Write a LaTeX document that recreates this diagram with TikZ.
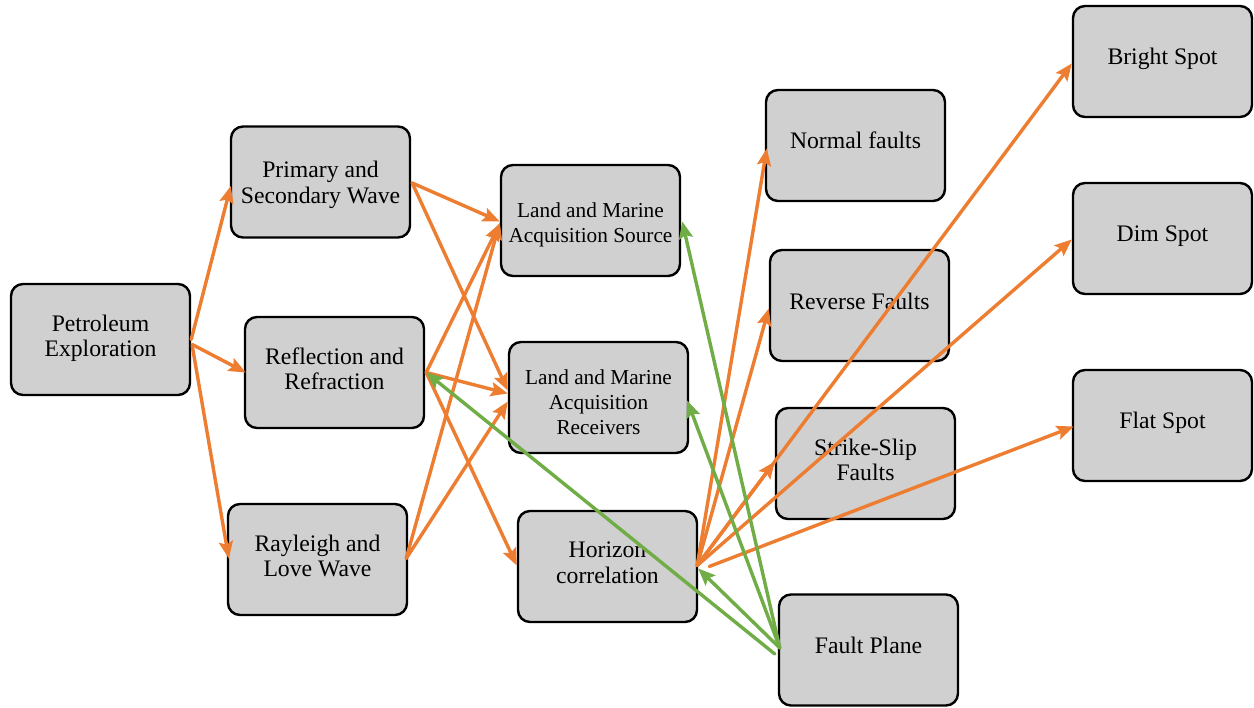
\documentclass[tikz,border=0pt]{standalone}
\usepackage{fontspec}
\setmainfont{Liberation Serif}
\usetikzlibrary{arrows.meta,calc}
\definecolor{boxfill}{RGB}{208,208,208}
\definecolor{flow}{RGB}{237,125,49}
\definecolor{link}{RGB}{112,173,71}
\begin{document}
\begin{tikzpicture}[x=1pt,y=-1pt,
  box/.style={draw=black, line width=2.4pt, rounded corners=12pt, fill=boxfill,
    minimum width=179pt, minimum height=111pt, inner sep=0pt},
  boxtext/.style={align=center, inner sep=0pt,
    font=\fontsize{23.7}{25.5}\selectfont,
    execute at begin node=\strut, execute at end node=\strut},
  smalltext/.style={font=\fontsize{21.3}{25}\selectfont},
  orangearrow/.style={draw=flow, line width=3.4pt, line cap=round,
    -{Stealth[length=17pt,width=14pt,inset=3pt]}},
  greenarrow/.style={draw=link, line width=3.4pt, line cap=round,
    -{Stealth[length=17pt,width=14pt,inset=3pt]}}]
\useasboundingbox (0,0) rectangle (1254,708);

% boxes
\node[box] (pe)  at (100.5,339.5) {};
\node[box] (psw) at (320.5,182)   {};
\node[box] (rr)  at (334.5,372.5) {};
\node[box] (rl)  at (317.5,559.5) {};
\node[box] (src) at (590.5,220.5) {};
\node[box] (rcv) at (598.5,397.5) {};
\node[box] (hor) at (607.5,566.5) {};
\node[box] (nf)  at (855.5,145.5) {};
\node[box] (rf)  at (859.5,305.5) {};
\node[box] (ss)  at (865.5,463.5) {};
\node[box] (fp)  at (868.5,650)   {};
\node[box] (bs)  at (1162.5,61.5) {};
\node[box] (ds)  at (1162.5,238.5) {};
\node[box] (fs)  at (1162.5,425.5) {};

% box labels
\node[boxtext] (pe-t)  at ($(pe)+(0,0)$)  {Petroleum\\Exploration};
\node[boxtext] (psw-t) at ($(psw)+(0,4)$) {Primary and\\Secondary Wave};
\node[boxtext] (rr-t)  at ($(rr)+(0,0)$)  {Reflection and\\Refraction};
\node[boxtext] (rl-t)  at ($(rl)+(0,0)$)  {Rayleigh and\\Love Wave};
\node[boxtext,smalltext] (src-t) at ($(src)+(0,6)$) {Land and Marine\\Acquisition Source};
\node[boxtext,smalltext] (rcv-t) at ($(rcv)+(0,8)$) {Land and Marine\\Acquisition\\Receivers};
\node[boxtext] (hor-t) at ($(hor)+(0,0)$) {Horizon\\correlation};
\node[boxtext] (nf-t)  at ($(nf)+(0,-2)$) {Normal faults};
\node[boxtext] (rf-t)  at ($(rf)+(0,-1)$) {Reverse Faults};
\node[boxtext] (ss-t)  at ($(ss)+(0,0)$)  {Strike-Slip\\Faults};
\node[boxtext] (fp-t)  at ($(fp)+(0,-2)$) {Fault Plane};
\node[boxtext] (bs-t)  at ($(bs)+(0,-2)$) {Bright Spot};
\node[boxtext] (ds-t)  at ($(ds)+(0,-2)$) {Dim Spot};
\node[boxtext] (fs-t)  at ($(fs)+(0,-2)$) {Flat Spot};

% orange flow: exploration to wave types
\draw[orangearrow] (pe.east) -- ($(psw.west)+(1,4)$);
\draw[orangearrow] ($(pe.east)+(1,5)$) -- ($(rr.west)+(2,0)$);
\draw[orangearrow] ($(pe.east)+(1,6)$) -- ($(rl.west)+(2,-1)$);

% wave types to acquisition and interpretation
\draw[orangearrow] ($(psw.east)+(1,1)$) -- ($(src.west)+(0,1)$);
\draw[orangearrow] ($(psw.east)+(1,1)$) -- ($(rcv.west)+(0,-7)$);
\draw[orangearrow] ($(rr.east)+(1,0)$) -- ($(src.west)+(0,3)$);
\draw[orangearrow] ($(rr.east)+(1,0)$) -- ($(rcv.west)+(0,-4)$);
\draw[orangearrow] ($(rr.east)+(1,0)$) -- ($(hor.west)+(0,-1)$);
\draw[orangearrow] ($(rl.east)+(-2,-1)$) -- ($(src.west)+(0,2)$);
\draw[orangearrow] ($(rl.east)+(-2,-1)$) -- ($(rcv.west)+(0,4)$);

% horizon correlation to faults and amplitude spots
\draw[orangearrow] ($(hor.east)+(-1,-1)$) -- ($(nf.west)+(2,3)$);
\draw[orangearrow] ($(hor.east)+(-1,-1)$) -- ($(rf.west)+(0,3)$);
\draw[orangearrow] ($(hor.east)+(-1,-1)$) -- ($(ss.west)+(0,-2)$);
\draw[orangearrow] ($(hor.east)+(-1,-1)$) -- ($(bs.west)+(0,2)$);
\draw[orangearrow] ($(hor.east)+(-1,-1)$) -- ($(ds.west)+(0,1)$);
\draw[orangearrow] ($(hor.east)+(11,0)$) -- ($(fs.west)+(2,1)$);

% green links from the fault plane
\draw[greenarrow] ($(fp.west)+(2,-2)$) -- ($(src.east)+(1,1)$);
\draw[greenarrow] ($(fp.west)+(2,-2)$) -- ($(rcv.east)+(-2,3)$);
\draw[greenarrow] ($(fp.west)+(-3,4)$) -- ($(rr.east)+(1,0)$);
\draw[greenarrow] ($(fp.west)+(2,-2)$) -- ($(hor.east)+(0,2)$);
\end{tikzpicture}
\end{document}
